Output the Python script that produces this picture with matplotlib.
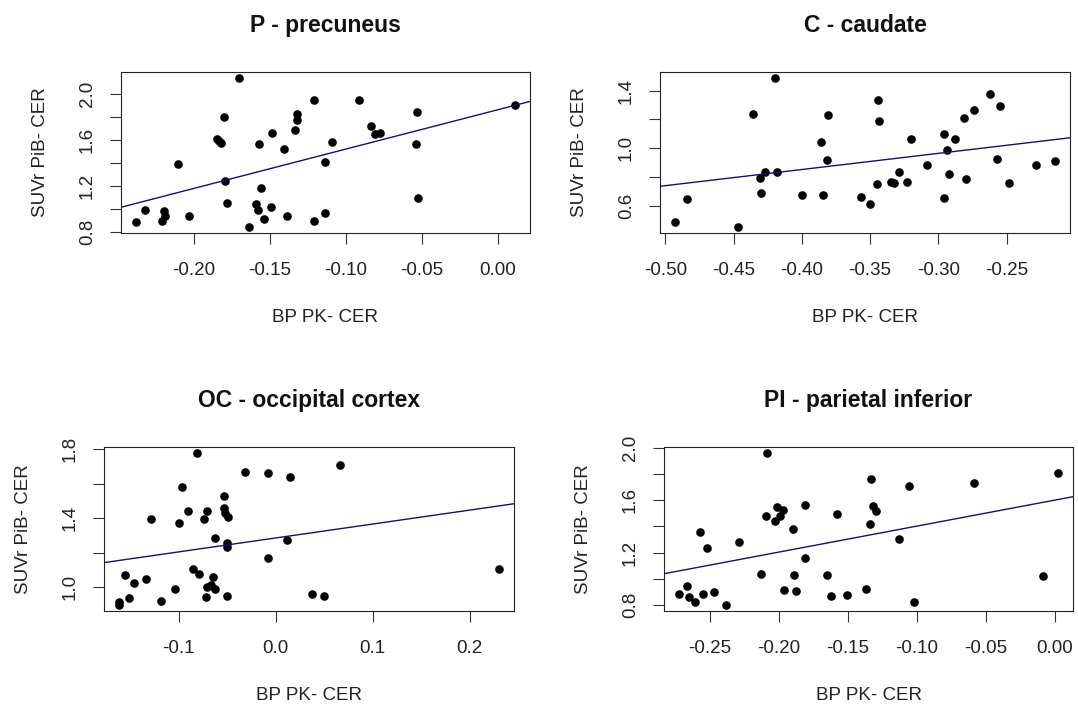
import matplotlib
matplotlib.use("Agg")
import matplotlib.pyplot as plt

plt.rcParams["font.family"] = ["Liberation Sans", "DejaVu Sans"]
plt.rcParams["axes.unicode_minus"] = False

W, H = 1078, 704

# ---- data ----
p_x = [-0.238, -0.232, -0.221, -0.2195, -0.219, -0.2034, -0.2106, -0.185, -0.1835, -0.182,
       -0.180, -0.1796, -0.178, -0.170, -0.1638, -0.1593, -0.158, -0.1572, -0.1557, -0.154,
       -0.149, -0.1487, -0.1405, -0.1387, -0.1333, -0.1324, -0.1324, -0.1206, -0.1206, -0.1138,
       -0.1138, -0.1088, -0.0912, -0.0837, -0.0808, -0.0774, -0.0534, -0.0541, -0.0525, 0.0113]
p_y = [0.888, 0.994, 0.896, 0.982, 0.939, 0.939, 1.395, 1.607, 1.590, 1.570,
       1.796, 1.246, 1.057, 2.138, 0.845, 1.048, 0.994, 1.564, 1.183, 0.916,
       1.017, 1.659, 1.521, 0.939, 1.690, 1.828, 1.776, 1.946, 0.896, 1.407,
       0.971, 1.584, 1.946, 1.725, 1.648, 1.659, 1.839, 1.564, 1.097, 1.900]
p_fit = (1.862, 3.41)  # intercept, slope

c_x = [-0.4927, -0.4837, -0.4469, -0.4361, -0.4308, -0.4298, -0.4273, -0.4198, -0.418, -0.400,
       -0.3858, -0.3848, -0.3818, -0.381, -0.3569, -0.3499, -0.3451, -0.3441, -0.3433, -0.3348,
       -0.3322, -0.329, -0.3227, -0.3199, -0.3081, -0.2958, -0.2958, -0.2938, -0.2923, -0.2877,
       -0.2814, -0.2797, -0.2742, -0.2623, -0.2573, -0.255, -0.2487, -0.2284, -0.2148]
c_y = [0.490, 0.648, 0.456, 1.240, 0.792, 0.691, 0.840, 1.487, 0.835, 0.675,
       1.046, 0.675, 0.920, 1.231, 0.666, 0.616, 0.751, 1.334, 1.190, 0.769,
       0.760, 0.835, 0.769, 1.064, 0.886, 1.096, 0.657, 0.986, 0.826, 1.064,
       1.208, 0.785, 1.265, 1.375, 0.927, 1.293, 0.760, 0.886, 0.913]
c_fit = (1.301, 1.118)

oc_x = [-0.1612, -0.1612, -0.1548, -0.1509, -0.1456, -0.1331, -0.1282, -0.1179, -0.104, -0.0994,
        -0.0962, -0.0902, -0.0852, -0.0813, -0.0788, -0.0735, -0.0721, -0.071, -0.0703, -0.0671,
        -0.0646, -0.0621, -0.0621, -0.0536, -0.0536, -0.0522, -0.0504, -0.050, -0.0497, -0.0493,
        -0.0316, -0.0075, -0.0075, 0.0121, 0.0149, 0.0376, 0.0501, 0.0667, 0.230]
oc_y = [0.898, 0.914, 1.071, 0.939, 1.027, 1.047, 1.394, 0.919, 0.990, 1.372,
        1.582, 1.445, 1.108, 1.778, 1.078, 1.394, 0.945, 1.443, 1.004, 1.012,
        1.061, 0.988, 1.288, 1.531, 1.461, 1.431, 0.947, 1.255, 1.231, 1.408,
        1.669, 1.172, 1.663, 1.276, 1.639, 0.961, 0.947, 1.706, 1.106]
oc_fit = (1.286, 0.8075)

pi_x = [-0.272, -0.266, -0.2646, -0.2604, -0.2567, -0.2547, -0.2517, -0.247, -0.2381, -0.2284,
        -0.2125, -0.2091, -0.2081, -0.2026, -0.2011, -0.1989, -0.1972, -0.1964, -0.1895, -0.1892,
        -0.1877, -0.1813, -0.1806, -0.1652, -0.1624, -0.1575, -0.1503, -0.1369, -0.1337, -0.133,
        -0.1314, -0.1295, -0.1131, -0.1054, -0.1022, -0.0588, -0.0087, 0.002]
pi_y = [0.885, 0.944, 0.861, 0.828, 1.359, 0.885, 1.238, 0.903, 0.802, 1.284,
        1.037, 1.477, 1.959, 1.438, 1.549, 1.480, 1.529, 0.913, 1.379, 1.029,
        0.905, 1.163, 1.560, 1.029, 0.867, 1.495, 0.877, 0.923, 1.418, 1.760,
        1.557, 1.521, 1.304, 1.711, 0.828, 1.732, 1.019, 1.807]
pi_fit = (1.601, 1.984)

titles = ["P - precuneus", "C - caudate", "OC - occipital cortex", "PI - parietal inferior"]

p_xticks = [-0.20, -0.15, -0.10, -0.05, 0.00]
p_xlabels = ["-0.20", "-0.15", "-0.10", "-0.05", "0.00"]
p_yticks = [0.8, 1.0, 1.2, 1.4, 1.6, 1.8, 2.0]
p_ylabels = ["0.8", "", "1.2", "", "1.6", "", "2.0"]

c_xticks = [-0.50, -0.45, -0.40, -0.35, -0.30, -0.25]
c_xlabels = ["-0.50", "-0.45", "-0.40", "-0.35", "-0.30", "-0.25"]
c_yticks = [0.6, 0.8, 1.0, 1.2, 1.4]
c_ylabels = ["0.6", "", "1.0", "", "1.4"]

oc_xticks = [-0.1, 0.0, 0.1, 0.2]
oc_xlabels = ["-0.1", "0.0", "0.1", "0.2"]
oc_yticks = [1.0, 1.2, 1.4, 1.6, 1.8]
oc_ylabels = ["1.0", "", "1.4", "", "1.8"]

pi_xticks = [-0.25, -0.20, -0.15, -0.10, -0.05, 0.00]
pi_xlabels = ["-0.25", "-0.20", "-0.15", "-0.10", "-0.05", "0.00"]
pi_yticks = [0.8, 1.0, 1.2, 1.4, 1.6, 1.8, 2.0]
pi_ylabels = ["0.8", "", "1.2", "", "1.6", "", "2.0"]

# plot boxes in pixels: left, top, right, bottom
boxes = [(121, 72, 530, 233), (660, 72, 1070, 233),
         (104, 447, 514, 611), (664, 447, 1073, 611)]

panels = [
    (p_x, p_y, p_fit, p_xticks, p_xlabels, p_yticks, p_ylabels),
    (c_x, c_y, c_fit, c_xticks, c_xlabels, c_yticks, c_ylabels),
    (oc_x, oc_y, oc_fit, oc_xticks, oc_xlabels, oc_yticks, oc_ylabels),
    (pi_x, pi_y, pi_fit, pi_xticks, pi_xlabels, pi_yticks, pi_ylabels),
]

fig = plt.figure(figsize=(W / 100, H / 100), dpi=100)
fig.patch.set_facecolor("white")

for (l, t, r, b), title, (xs, ys, fit, xt, xl, yt, yl) in zip(boxes, titles, panels):
    ax = fig.add_axes([l / W, 1 - b / H, (r - l) / W, (b - t) / H])
    ax.plot(xs, ys, "o", color="black", markersize=6.2, markeredgewidth=0, zorder=2)
    # R-style 4% padding around the data, then freeze the limits
    ax.margins(0.04)
    ax.autoscale_view()
    ax.set_xlim(ax.get_xlim())
    ax.set_ylim(ax.get_ylim())
    ax.axline((0, fit[0]), slope=fit[1], color="#10107a", linewidth=1.0, zorder=3)

    ax.set_xticks(xt)
    ax.set_xticklabels(xl)
    ax.set_yticks(yt)
    ax.set_yticklabels(yl, rotation=90, va="center")

    ax.tick_params(axis="both", direction="out", length=8, width=0.8,
                   color="#333333", labelsize=13.5, labelcolor="#222222")
    ax.tick_params(axis="x", pad=13)
    ax.tick_params(axis="y", pad=10)
    for spine in ax.spines.values():
        spine.set_color("#222222")
        spine.set_linewidth(0.8)

    ax.set_title(title, fontsize=16.5, fontweight="bold", pad=28.5, color="#111111")
    ax.set_xlabel("BP PK- CER", fontsize=13.5, color="#222222")
    ax.set_ylabel("SUVr PiB- CER", fontsize=13.5, color="#222222")
    ax.xaxis.set_label_coords(0.5, -76 / (b - t))
    ax.yaxis.set_label_coords(-72 / (r - l), 0.5)

fig.savefig("out.png", dpi=100, facecolor="white")
